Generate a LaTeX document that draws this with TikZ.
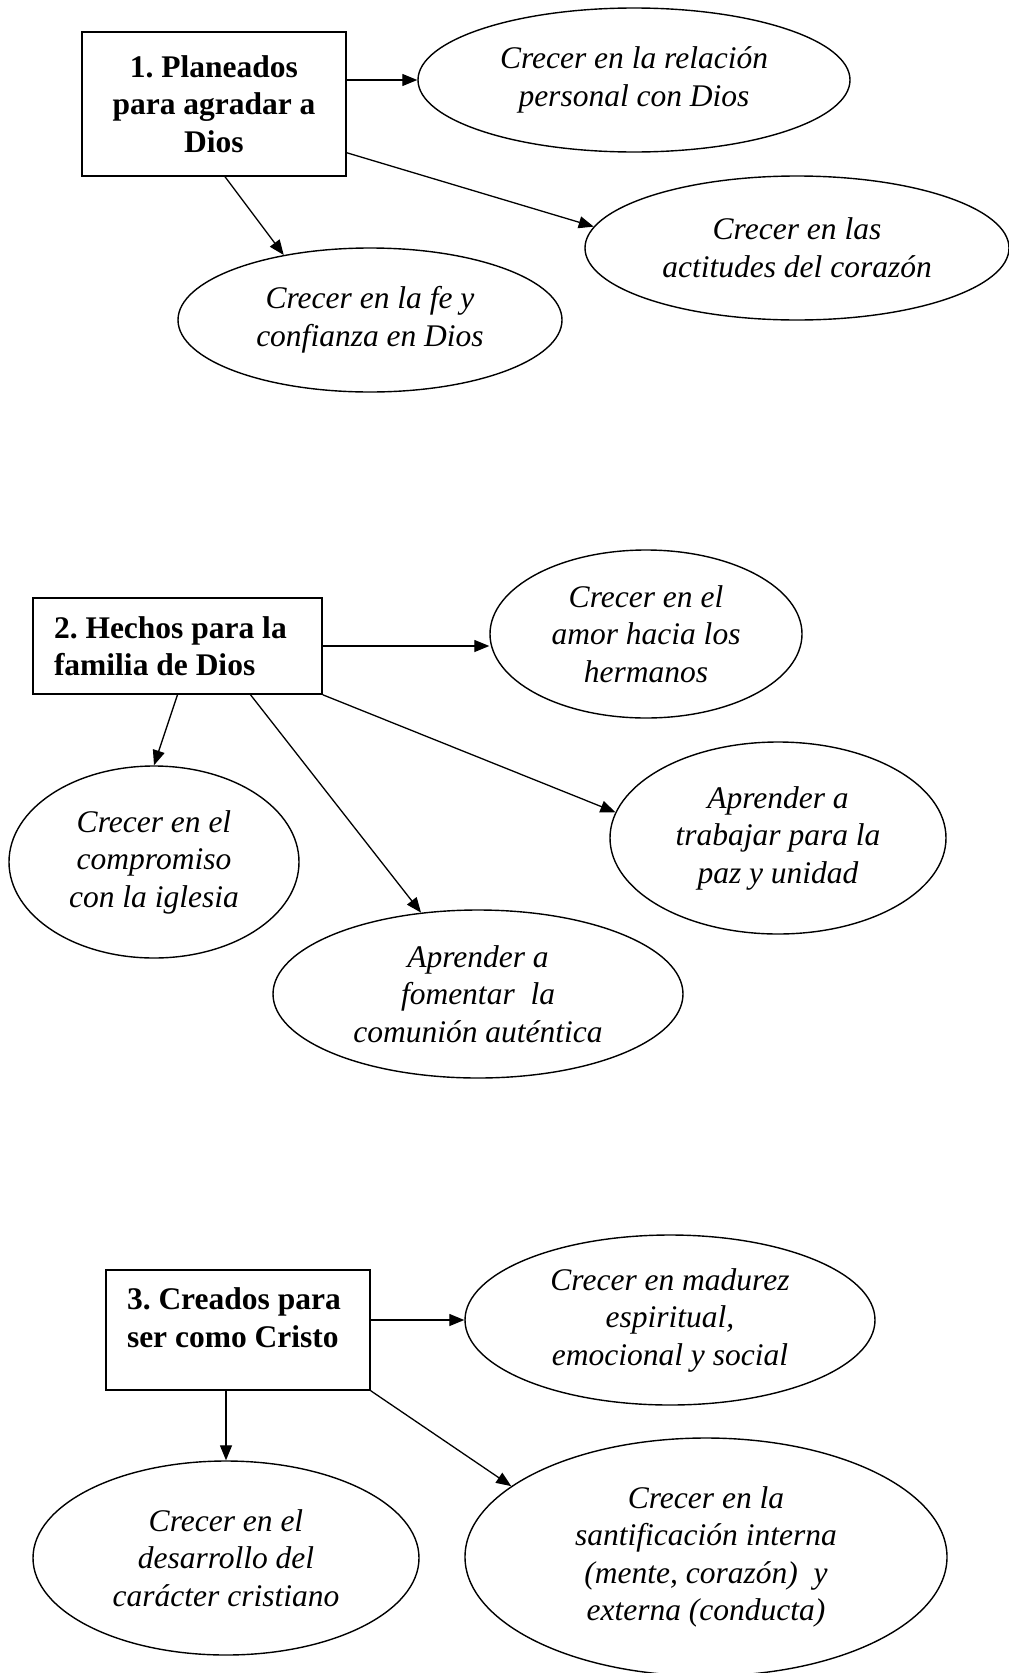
\documentclass[tikz,border=0pt]{standalone}
\usepackage{fontspec}
\setmainfont{Liberation Serif}
\usepackage{tikz}
\usetikzlibrary{arrows.meta,shapes.geometric}

\begin{document}
\frenchspacing
\begin{tikzpicture}[x=1pt,y=-1pt,
  proposito/.style={draw, line width=1.5pt, inner xsep=21pt, inner ysep=0pt, font=\bfseries\fontsize{31.5}{37.5}\selectfont},
  meta/.style={draw, ellipse, line width=1.4pt, inner sep=0pt, align=center, font=\itshape\fontsize{31.5}{37.5}\selectfont},
  flecha/.style={-{Triangle[length=15pt,width=12pt]}, line width=1.3pt}]
\useasboundingbox (0,0) rectangle (1009,1673);
% Proposito 1
\node[proposito, text width=222pt, align=flush center, minimum height=144pt] (p1) at (214,104) {1. Planeados\\para agradar a\\Dios};
\node[meta, minimum width=432pt, minimum height=144pt] (e1a) at (634,80) {Crecer en la relación\\personal con Dios};
\node[meta, minimum width=424pt, minimum height=144pt] (e1b) at (797,248) {Crecer en las\\actitudes del corazón};
\node[meta, minimum width=384pt, minimum height=144pt] (e1c) at (370,320) {Crecer en la fe y\\confianza en Dios};
\draw[flecha] (p1.east |- e1a.west) -- (e1a.west);
\draw[flecha] ([yshift=24pt]p1.south east) -- (e1b.174);
\draw[flecha] ([xshift=11pt]p1.south) -- (e1c.143);
% Proposito 2
\node[proposito, text width=247pt, align=flush left, minimum height=96pt] (p2) at (177.5,646) {2. Hechos para la\\familia de Dios};
\node[meta, minimum width=312pt, minimum height=168pt] (e2a) at (646,634) {Crecer en el\\amor hacia los\\hermanos};
\node[meta, minimum width=336pt, minimum height=192pt] (e2b) at (778,838) {Aprender a\\trabajar para la\\paz y unidad};
\node[meta, minimum width=290pt, minimum height=192pt] (e2c) at (154,862) {Crecer en el\\compromiso\\con la iglesia};
\node[meta, minimum width=410pt, minimum height=168pt] (e2d) at (478,994) {Aprender a\\fomentar~ la\\comunión auténtica};
\draw[flecha] (p2.east) -- (p2.east -| e2a.west);
\draw[flecha] (p2.south east) -- (e2b.171);
\draw[flecha] (p2.south) -- (e2c.north);
\draw[flecha] ([xshift=73pt]p2.south) -- (e2d.125);
% Proposito 3
\node[proposito, text width=222pt, align=flush left, minimum height=120pt] (p3) at (238,1330) {3. Creados para\\ser como Cristo\rule[-25pt]{0pt}{0pt}};
\node[meta, minimum width=410pt, minimum height=170pt] (e3a) at (670,1320) {Crecer en madurez\\espiritual,\\emocional y social};
\node[meta, minimum width=386pt, minimum height=194pt] (e3b) at (226,1558) {Crecer en el\\desarrollo del\\carácter cristiano};
\node[meta, minimum width=482pt, minimum height=238pt] (e3c) at (706,1557) {Crecer en la\\santificación interna\\(mente, corazón)~ y\\externa (conducta)};
\draw[flecha] (p3.east |- e3a.west) -- (e3a.west);
\draw[flecha] (p3.south -| e3b.north) -- (e3b.north);
\draw[flecha] (p3.south east) -- (e3c.160);
\end{tikzpicture}
\end{document}
